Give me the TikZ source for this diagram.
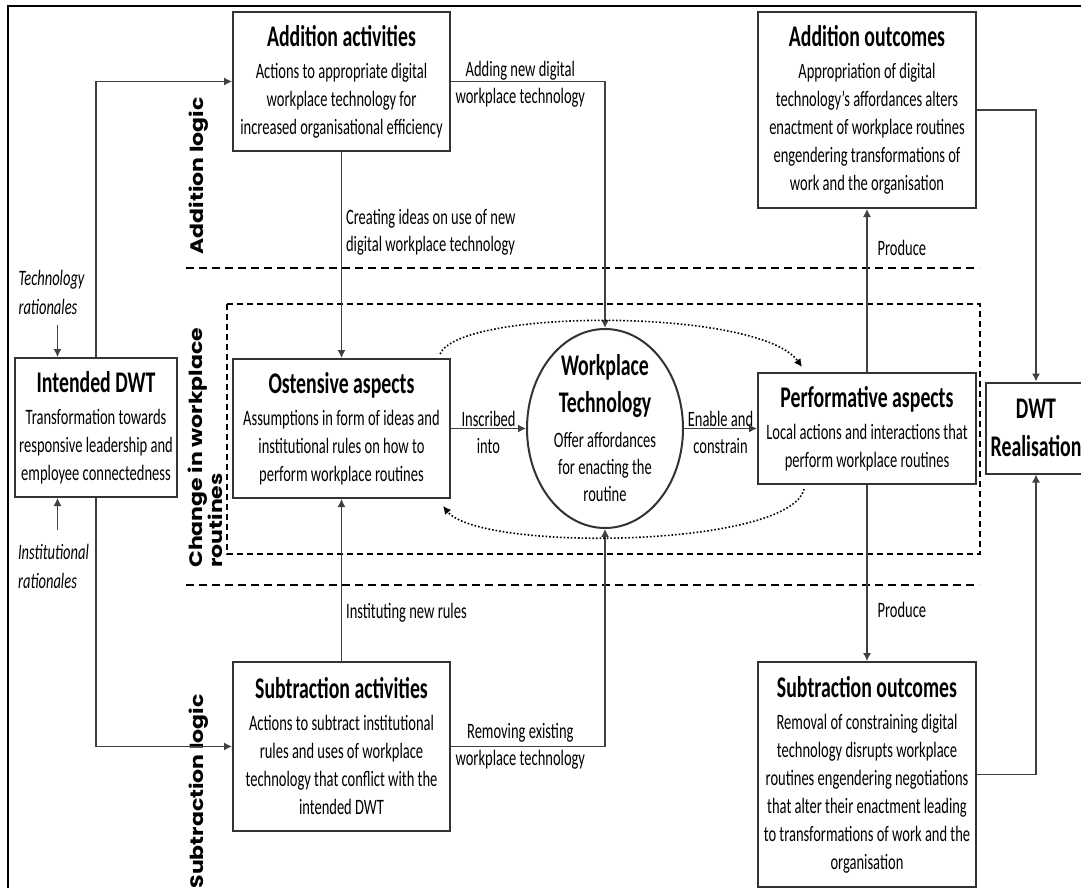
\documentclass[tikz,border=0pt]{standalone}
\usepackage{fontspec}
\setmainfont{Carlito}[FakeStretch=0.66]
\newfontfamily\logicfont{Poppins}
\usepackage{tikz}
\usetikzlibrary{positioning,calc,arrows.meta,shapes.geometric}

\newcommand{\boxtitle}[1]{{\fontsize{15}{16}\selectfont\bfseries #1}}

\begin{document}
\begin{tikzpicture}[x=0.5pt, y=-0.5pt, >=Latex,
    box/.style={draw=black!80, line width=1pt, align=center, inner sep=1pt,
                font=\fontsize{11}{14}\selectfont},
    lbl/.style={align=center, inner sep=1pt, font=\fontsize{11}{13.5}\selectfont},
    rat/.style={align=left, inner sep=1pt, font=\fontsize{11}{14.5}\selectfont\itshape},
    logic/.style={rotate=90, yscale=0.82, align=left, inner sep=0pt,
                  font=\logicfont\bfseries\fontsize{11}{12}\selectfont},
    arr/.style={-{Latex[length=4pt,width=4pt]}, line width=0.6pt, draw=black!75},
    loopback/.style={-{Latex[length=4pt,width=4pt]}, densely dotted, line width=0.8pt},
    divider/.style={dash pattern=on 4pt off 2.5pt, line width=1.1pt}]
    \clip (0,0) rectangle (1081,888);
    \fill[white] (0,0) rectangle (1081,888);
    \draw[line width=0.8pt] (8,900) -- (8,6) -- (1100,6);

    % logic bands
    \draw[divider] (186,268) -- (979,268);
    \draw[divider] (186,585) -- (979,585);
    \draw[densely dashed, line width=0.7pt] (227,304) rectangle (980,554);
    \node[logic] (addlogic) at (199,176) {Addition logic};
    \node[logic, anchor=north west] (chglogic) at (188,568) {Change in workplace\\routines};
    \node[logic, anchor=east] (sublogic) at (199,694) {Subtraction logic};

    % boxes
    \node[box, minimum width=81pt, minimum height=69.5pt] (intdwt) at (96,427.5)
        {\boxtitle{Intended DWT}\\[2pt]Transformation towards\\responsive leadership and\\employee connectedness};
    \node[box, minimum width=108.5pt, minimum height=69.5pt] (addact) at (341.5,81.5)
        {\boxtitle{Addition activities}\\[2pt]Actions to appropriate digital\\workplace technology for\\increased organisational efficiency};
    \node[box, minimum width=108.5pt, minimum height=69.5pt] (ost) at (341.5,428.5)
        {\boxtitle{Ostensive aspects}\\[2pt]Assumptions in form of ideas and\\institutional rules on how to\\perform workplace routines};
    \node[box, minimum width=108.5pt, minimum height=84.5pt] (subact) at (341.5,746.5)
        {\boxtitle{Subtraction activities}\\[2pt]Actions to subtract institutional\\rules and uses of workplace\\technology that conflict with the\\intended DWT};
    \node[ellipse, draw=black!80, line width=1pt, minimum width=78pt, minimum height=99.5pt, inner sep=0pt,
          label={[lbl, font=\fontsize{11}{13.5}\selectfont]center:{\boxtitle{Workplace}\\[5pt]\boxtitle{Technology}\\[4pt]Offer affordances\\for enacting the\\routine}}]
        (tech) at (605,428.5) {};
    \node[box, minimum width=109pt, minimum height=98pt] (addout) at (867,110)
        {\boxtitle{Addition outcomes}\\[2pt]Appropriation of digital\\technology's affordances alters\\enactment of workplace routines\\engendering transformations of\\work and the organisation};
    \node[box, minimum width=109pt, minimum height=55.5pt] (perf) at (867,428.5)
        {\boxtitle{Performative aspects}\\[2pt]Local actions and interactions that\\perform workplace routines};
    \node[box, minimum width=109pt, minimum height=112.5pt] (subout) at (867,774.5)
        {\boxtitle{Subtraction outcomes}\\[2pt]Removal of constraining digital\\technology disrupts workplace\\routines engendering negotiations\\that alter their enactment leading\\to transformations of work and the\\organisation};
    \node[box, minimum width=50pt, minimum height=45.5pt] (dwt) at (1036,428)
        {\boxtitle{DWT}\\[5pt]\boxtitle{Realisation}};

    \node[rat] (techrat) at (51.5,292.5) {Technology\\rationales};
    \node[rat] (instrat) at (53.5,566) {Institutional\\rationales};

    % connectors
    \draw[arr] ([xshift=3pt,yshift=-4pt]techrat.south) -- ([xshift=3pt]techrat.south |- intdwt.north);
    \draw[arr] ([xshift=2pt,yshift=5.5pt]instrat.north) -- ([xshift=2pt]instrat.north |- intdwt.south);
    \draw[arr] (intdwt.north) |- (addact.west);
    \draw[arr] (intdwt.south) |- (subact.west);
    \draw[arr] (addact) -- node[lbl, anchor=west, align=left, pos=0.39, xshift=1pt] {Creating ideas on use of new\\digital workplace technology} (ost);
    \draw[arr] (subact) -- node[lbl, anchor=west, pos=0.3, xshift=1pt] {Instituting new rules} (ost);
    \draw[arr] (addact.east) -| node[lbl, pos=0.225, yshift=-1.5pt] {Adding new digital\\workplace technology} (tech.north);
    \draw[arr] (subact.east) -| node[lbl, pos=0.225] {Removing existing\\workplace technology} (tech.south);
    \draw[arr] (ost) -- node[lbl, yshift=-1.75pt] {Inscribed\\into} (tech);
    \draw[arr] (tech) -- node[lbl, yshift=-1.75pt] {Enable and\\constrain} (perf);
    \draw[arr] (perf) -- node[lbl, anchor=west, pos=0.76, xshift=4pt] {Produce} (addout);
    \draw[arr] (perf) -- node[lbl, anchor=west, pos=0.71, xshift=4pt] {Produce} (subout);
    \draw[arr] (addout.east) -| (dwt.north);
    \draw[arr] (subout.east) -| (dwt.south);
    \draw[loopback] ([xshift=-5.5pt,yshift=2pt]ost.north east) .. controls (460,308) and (760,308) .. ([xshift=22.5pt,yshift=2.5pt]perf.north west);
    \draw[loopback] ([xshift=23.5pt,yshift=-2pt]perf.south west) .. controls (790,548) and (480,552) .. ([xshift=-4pt,yshift=-3.5pt]ost.south east);
\end{tikzpicture}
\end{document}
